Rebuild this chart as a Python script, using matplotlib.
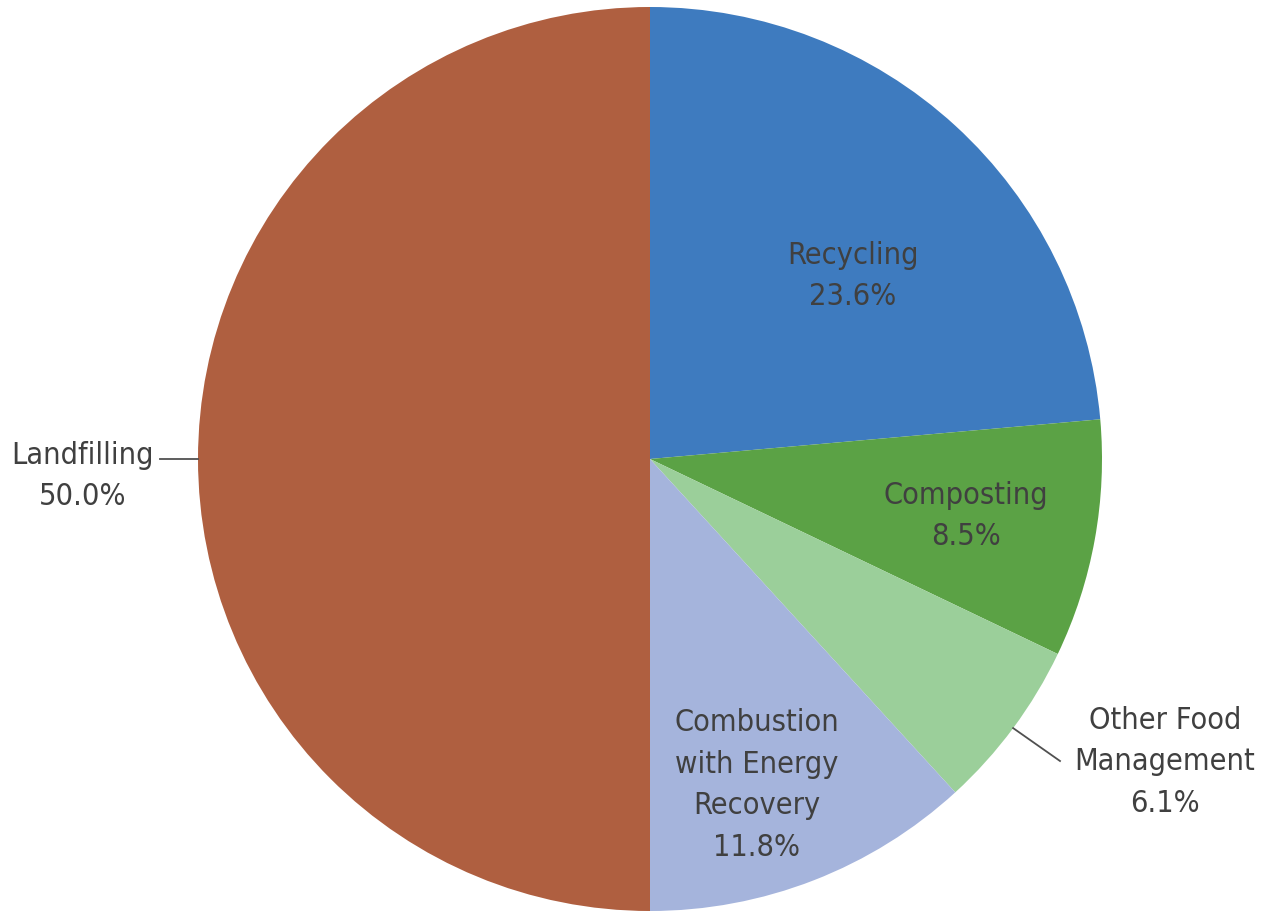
import numpy as np
import matplotlib.pyplot as plt

categories = ["Recycling", "Composting", "Other Food\nManagement",
              "Combustion\nwith Energy\nRecovery", "Landfilling"]
shares = [23.6, 8.5, 6.1, 11.8, 50.0]
colors = ["#3e7bbf", "#5ba245", "#9bcf9a", "#a5b4dc", "#af5f40"]

W, H = 1263, 912
fig = plt.figure(figsize=(W / 100, H / 100), dpi=100)
ax = fig.add_axes([0, 0, 1, 1])

cx, cy, r = 650, 452, 452
wedges, _ = ax.pie(shares, colors=colors, startangle=90, counterclock=False,
                   center=(cx, cy), radius=r, frame=True,
                   wedgeprops=dict(linewidth=0))
ax.set_xlim(0, W)
ax.set_ylim(0, H)
ax.set_aspect("equal")
ax.axis("off")

font = ["DejaVu Sans"]
txt_color = "#404040"

# label block centres (pixels, y from top); outside labels get a leader line
label_pos = [(853, 276), (966, 516), (1165, 762), (757, 785), (83, 476)]
leader_end = [None, None, (1060, 762), None, (160, 460)]

for w, cat, val, (lx, ly), end in zip(wedges, categories, shares, label_pos, leader_end):
    ax.text(lx, H - ly, f"{cat}\n{val:.1f}%", ha="center", va="center",
            fontsize=22, family=font, fontstretch="condensed",
            color=txt_color, linespacing=1.56)
    if end is not None:
        ang = np.deg2rad((w.theta1 + w.theta2) / 2)
        x0, y0 = cx + r * np.cos(ang), cy + r * np.sin(ang)
        ax.plot([x0, end[0]], [y0, H - end[1]], color="#505050", lw=1.3)

fig.savefig("out.png", dpi=100, facecolor="white")
